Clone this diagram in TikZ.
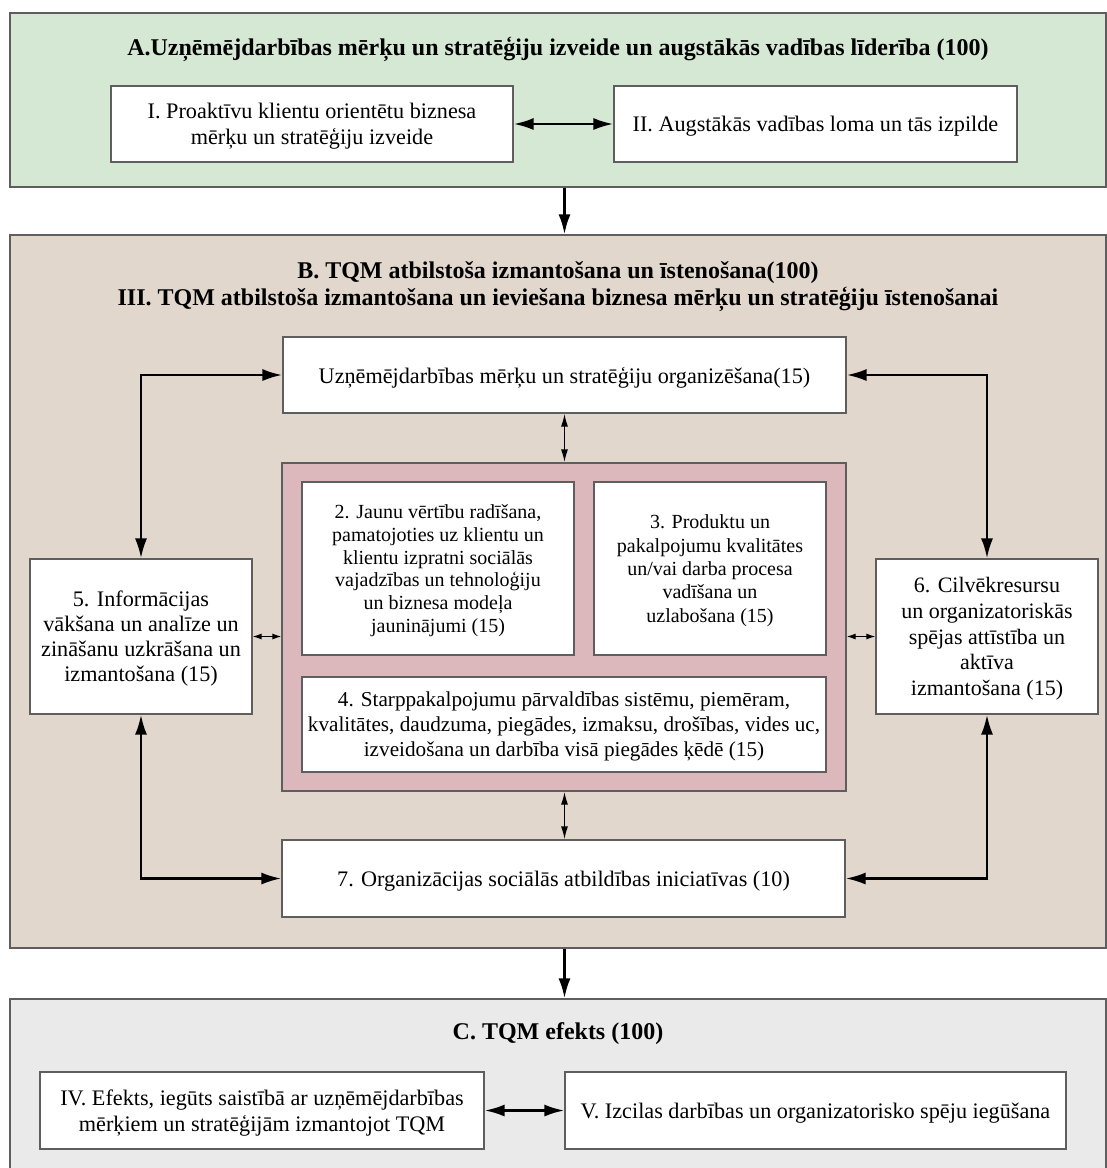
\documentclass[tikz,border=0pt]{standalone}
\usepackage{fontspec}
\setmainfont{Liberation Serif}
\usetikzlibrary{arrows.meta}
\definecolor{secA}{HTML}{D5E8D4}
\definecolor{secB}{HTML}{E1D7CD}
\definecolor{coreFill}{HTML}{DCB8BC}
\definecolor{secC}{HTML}{EAEAEA}
\definecolor{edgeGray}{HTML}{5E5E5E}
\begin{document}
\begin{tikzpicture}[x=1pt,y=-1pt,
  panel/.style={draw=edgeGray, line width=1.3pt, inner sep=0pt},
  card/.style={draw=edgeGray, line width=1.1pt, fill=white, align=center, inner sep=2pt,
    text depth=0pt, font=\fontsize{22.2}{26}\selectfont},
  heading/.style={align=center, font=\fontsize{24}{27}\selectfont\bfseries},
  bigarrow/.style={line width=2.6pt, -{Latex[length=20pt,width=12pt]}},
  bigboth/.style={line width=2.6pt, {Latex[length=20pt,width=12pt]}-{Latex[length=20pt,width=12pt]}},
  midboth/.style={line width=1.6pt, {Latex[length=13pt,width=7pt]}-{Latex[length=13pt,width=7pt]}},
  smallboth/.style={line width=1.2pt, {Latex[length=9pt,width=6pt]}-{Latex[length=9pt,width=6pt]}},
]
\useasboundingbox (0,0) rectangle (1107,1168);
\clip (0,0) rectangle (1107,1168);
\fill[white] (0,0) rectangle (1107,1168);

% section panels
\node[panel, fill=secA, minimum width=1096pt, minimum height=174pt] (A) at (558,100) {};
\node[panel, fill=secB, minimum width=1096pt, minimum height=713pt] (B) at (558,591.5) {};
\node[panel, fill=secC, minimum width=1096pt, minimum height=180pt] (C) at (558,1089) {};

% section headings
\node[heading] (tA) at (558,49) {A.Uzņēmējdarbības mērķu un stratēģiju izveide un augstākās vadības līderība (100)};
\node[heading] (tB) at (558,287) {B. TQM atbilstoša izmantošana un īstenošana(100)\\III. TQM atbilstoša izmantošana un ieviešana biznesa mērķu un stratēģiju īstenošanai};
\node[heading] (tC) at (558,1034) {C. TQM efekts (100)};

% section A boxes
\node[card, minimum width=402pt, minimum height=76pt] (s1) at (312,124) {I. Proaktīvu klientu orientētu biznesa\\mērķu un stratēģiju izveide};
\node[card, minimum width=403pt, minimum height=76pt] (s2) at (815.5,124) {II. Augstākās vadības loma un tās izpilde};

% section B boxes
\node[card, minimum width=563pt, minimum height=76pt] (org) at (564.5,375) {Uzņēmējdarbības mērķu un stratēģiju organizēšana(15)};
\node[panel, fill=coreFill, line width=1.2pt, minimum width=564pt, minimum height=328pt] (core) at (564,627) {};
\node[card, minimum width=272pt, minimum height=173pt, font=\fontsize{20}{22.8}\selectfont] (b2) at (438,568.5) {2. Jaunu vērtību radīšana,\\pamatojoties uz klientu un\\klientu izpratni sociālās\\vajadzības un tehnoloģiju\\un biznesa modeļa\\jauninājumi (15)};
\node[card, minimum width=232pt, minimum height=173pt, font=\fontsize{20}{23.3}\selectfont] (b3) at (710,568.5) {3. Produktu un\\pakalpojumu kvalitātes\\un/vai darba procesa\\vadīšana un\\uzlabošana (15)};
\node[card, minimum width=524pt, minimum height=95pt, font=\fontsize{21.2}{25}\selectfont] (b4) at (564,724.5) {4. Starppakalpojumu pārvaldības sistēmu, piemēram,\\kvalitātes, daudzuma, piegādes, izmaksu, drošības, vides uc,\\izveidošana un darbība visā piegādes ķēdē (15)};
\node[card, minimum width=222pt, minimum height=155pt, font=\fontsize{22.2}{25}\selectfont] (b5) at (141,636.5) {5. Informācijas\\vākšana un analīze un\\zināšanu uzkrāšana un\\izmantošana (15)};
\node[card, minimum width=222pt, minimum height=155pt, font=\fontsize{22}{25.7}\selectfont] (b6) at (987,636.5) {6. Cilvēkresursu\\un organizatoriskās\\spējas attīstība un\\aktīva\\izmantošana (15)};
\node[card, minimum width=563pt, minimum height=77pt] (b7) at (563.5,878.5) {7. Organizācijas sociālās atbildības iniciatīvas (10)};

% section C boxes
\node[card, minimum width=444pt, minimum height=77pt] (e1) at (262,1110.5) {IV. Efekts, iegūts saistībā ar uzņēmējdarbības\\mērķiem un stratēģijām izmantojot TQM};
\node[card, minimum width=501pt, minimum height=77pt] (e2) at (815.5,1110.5) {V. Izcilas darbības un organizatorisko spēju iegūšana};

% connectors between sections
\draw[bigarrow] (A.south -| org.center) -- (B.north -| org.center);
\draw[bigarrow] (B.south -| org.center) -- (C.north -| org.center);
\draw[bigboth] (s1.east) -- (s2.west);
\draw[bigboth] (e1.east) -- (e2.west);

% loops around the core
\draw[bigboth] (org.west) -| (b5.north);
\draw[bigboth] (org.east) -| (b6.north);
\draw[bigboth] (b5.south) |- (b7.west);
\draw[bigboth] (b6.south) |- (b7.east);

% links to the core block
\draw[midboth] (org.south) -- (org.south |- core.north);
\draw[midboth] (org.south |- core.south) -- (org.south |- b7.north);
\draw[smallboth] (b5.east) -- (core.west |- b5.east);
\draw[smallboth] (core.east |- b6.west) -- (b6.west);
\end{tikzpicture}
\end{document}
